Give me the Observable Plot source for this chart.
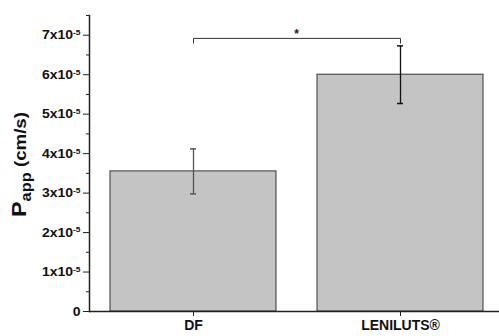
<!DOCTYPE html>
<html>
<head>
<meta charset="utf-8">
<script src="https://cdn.jsdelivr.net/npm/d3@7"></script>
<script src="https://cdn.jsdelivr.net/npm/@observablehq/plot@0.6"></script>
<style>
  html, body { margin: 0; padding: 0; background: #fff; }
  svg { font-family: "Liberation Sans", Arial, sans-serif; }
</style>
</head>
<body>
<div id="chart"></div>
<script>
const categories = ["DF", "LENILUTS®"];
const values = [3.55e-5, 6.0e-5];
const errors = [0.57e-5, 0.73e-5];
const errorColors = ["#555555", "#111111"];
const yTicks = [0, 1e-5, 2e-5, 3e-5, 4e-5, 5e-5, 6e-5, 7e-5];
const yTickLabels = ["0", "1x10^-5", "2x10^-5", "3x10^-5", "4x10^-5", "5x10^-5", "6x10^-5", "7x10^-5"];
const yMinorTicks = [0.5e-5, 1.5e-5, 2.5e-5, 3.5e-5, 4.5e-5, 5.5e-5, 6.5e-5, 7.5e-5];
const bracketX = ["DF", "DF", "LENILUTS®", "LENILUTS®"];
const bracketY = [6.8e-5, 6.92e-5, 6.92e-5, 6.8e-5];
const sigLabel = "*";
const sigY = 7.02e-5;

const data = categories.map((c, i) => ({cat: c, v: values[i], e: errors[i], col: errorColors[i]}));
const bracket = bracketX.map((x, i) => ({x, y: bracketY[i]}));

const chart = Plot.plot({
  width: 499,
  height: 336,
  marginLeft: 89,
  marginRight: 0,
  marginTop: 15,
  marginBottom: 25,
  style: {fontFamily: "'Liberation Sans', Arial, sans-serif", background: "#fff"},
  x: {domain: categories, range: [89, 504], paddingInner: 0.2, paddingOuter: 0.1, label: null},
  y: {domain: [0, 7.5e-5], label: null},
  marks: [
    Plot.barY(data, {x: "cat", y: "v", fill: "#c4c4c4", stroke: "#333", strokeWidth: 1}),
    Plot.ruleX(data, {x: "cat", y1: d => d.v - d.e, y2: d => d.v + d.e, stroke: "col", strokeWidth: 1.3}),
    Plot.tickY(data, {x: "cat", y: d => d.v + d.e, stroke: "col", strokeWidth: 1.5, insetLeft: 80, insetRight: 80}),
    Plot.tickY(data, {x: "cat", y: d => d.v - d.e, stroke: "col", strokeWidth: 1.5, insetLeft: 80, insetRight: 80}),
    Plot.line(bracket, {x: "x", y: "y", stroke: "#333", strokeWidth: 1}),
    Plot.text([sigLabel], {frameAnchor: "middle", y: [sigY], dx: 2, text: d => d, fontSize: 12, fontWeight: "bold", fill: "#222"}),
    Plot.ruleY([0], {stroke: "#222", strokeWidth: 1.5}),
    Plot.frame({anchor: "left", stroke: "#222", strokeWidth: 1.5}),
    Plot.axisY({ticks: yMinorTicks, tickSize: 3, tickFormat: () => "", stroke: "#222"}),
    Plot.axisY({ticks: yTicks, tickSize: 6, tickPadding: 3, tickFormat: d => yTickLabels[yTicks.indexOf(d)], fontSize: 12.5, fontWeight: "bold", fill: "#111", stroke: "#222"}),
    Plot.axisX({tickSize: 5, tickPadding: 4, fontSize: 14, fontWeight: "bold", fill: "#111", stroke: "#222"})
  ]
});

document.getElementById("chart").appendChild(chart);

// superscripts in y tick labels, slightly widened like the original
d3.select(chart).selectAll("text").each(function() {
  const t = this.textContent;
  if (t.includes("^") || t === "0") {
    const sel = d3.select(this);
    const tr = sel.attr("transform") || "";
    sel.attr("transform", tr + " scale(1.12,1)");
    if (t.includes("^")) {
      const [base, exp] = t.split("^");
      sel.text(null);
      sel.append("tspan").text(base);
      sel.append("tspan").attr("font-size", 7.5).attr("dy", "-0.55em").text(exp);
    }
  }
});

// y axis title with subscript
const title = d3.select(chart).append("text")
  .attr("transform", "translate(26,217) rotate(-90) scale(1.17,1)")
  .attr("text-anchor", "start")
  .attr("font-weight", "bold")
  .attr("fill", "#111")
  .attr("font-family", "'Liberation Sans', Arial, sans-serif");
title.append("tspan").attr("font-size", 20).text("P");
title.append("tspan").attr("font-size", 14).attr("dy", 5).text("app");
title.append("tspan").attr("font-size", 16).attr("dy", -5).text(" (cm/s)");
</script>
</body>
</html>
